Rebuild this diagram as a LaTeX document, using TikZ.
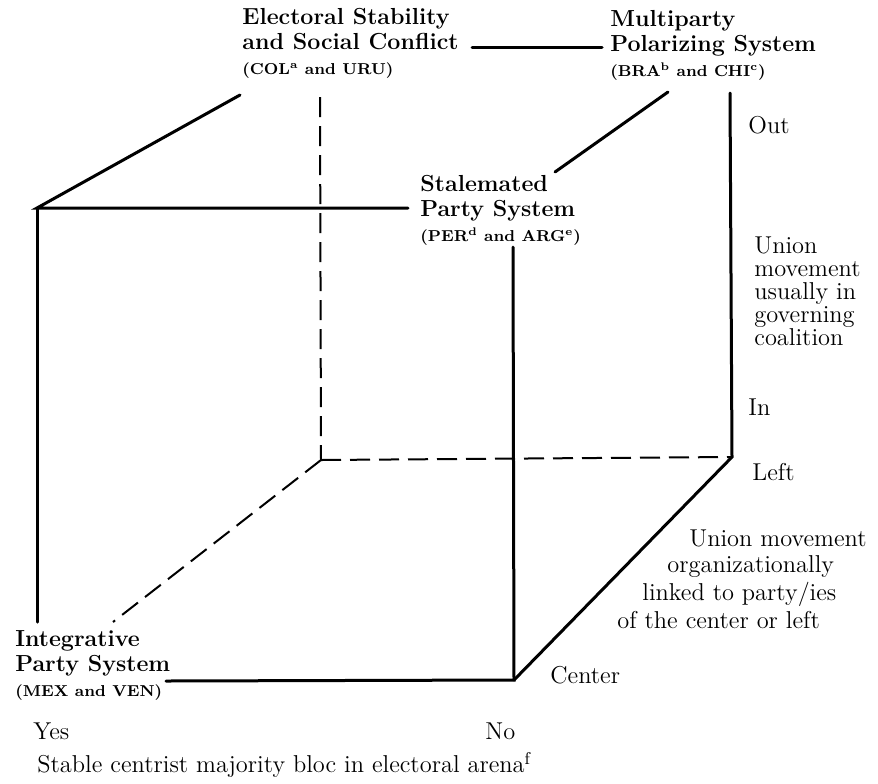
\documentclass[tikz,border=0pt]{standalone}
\usepackage{tikz}
\usetikzlibrary{positioning}
\newcommand{\ctry}[1]{{\fontsize{7.9}{9}\selectfont #1}}

\begin{document}
\begin{tikzpicture}[x=0.5pt, y=-0.5pt,
    edge/.style={line width=1.5pt, line cap=round, line join=miter},
    hidden/.style={line width=1pt, dash pattern=on 10pt off 4.5pt},
    sysname/.style={font=\fontsize{11.6}{12.5}\selectfont\bfseries, align=left, inner sep=0pt},
    axistext/.style={font=\fontsize{12.2}{11.5}\selectfont, align=left, inner sep=0pt}]
        \useasboundingbox (0,0) rectangle (878,783);
        % Corners of the cube
        \coordinate (ftl) at (37,208);
        \coordinate (bbl) at (321,460);
        \coordinate (bbr) at (732,457);
        \coordinate (fbr) at (514,680);
        % Party system labels on the other four corners
        \node[sysname, anchor=north west] (electoral) at (242,8)
          {Electoral Stability\\and Social Conflict\\\ctry{(COL\textsuperscript{a} and URU)}};
        \node[sysname, anchor=north west] (multiparty) at (610,10)
          {Multiparty\\Polarizing System\\\ctry{(BRA\textsuperscript{b} and CHI\textsuperscript{c})}};
        \node[sysname, anchor=north west] (stalemated) at (420,175)
          {Stalemated\\Party System\\\ctry{(PER\textsuperscript{d} and ARG\textsuperscript{e})}};
        \node[sysname, anchor=north west] (integrative) at (15,630)
          {Integrative\\Party System\\\ctry{(MEX and VEN)}};
        % Line ends next to the labels
        \coordinate (elec-diag) at (240,95);
        \coordinate (elec-down) at (320,97);
        \coordinate (elec-right) at (472,47);
        \coordinate (multi-left) at (602,47);
        \coordinate (multi-diag) at (668,92);
        \coordinate (multi-down) at (730,93);
        \coordinate (stal-left) at (408,208);
        \coordinate (stal-diag) at (555,172);
        \coordinate (stal-down) at (513,247);
        \coordinate (integ-up) at (37,622);
        \coordinate (integ-diag) at (113,622);
        \coordinate (integ-right) at (166,681);
        % Visible edges
        \draw[edge] (elec-diag) -- (ftl) -- (stal-left);
        \draw[edge] (ftl) -- (integ-up);
        \draw[edge] (elec-right) -- (multi-left);
        \draw[edge] (multi-diag) -- (stal-diag);
        \draw[edge] (multi-down) -- (bbr) -- (fbr);
        \draw[edge] (stal-down) -- (fbr) -- (integ-right);
        % Hidden edges
        \draw[hidden] (elec-down) -- (bbl);
        \draw[hidden] (bbl) -- (bbr);
        \draw[hidden] (bbl) -- (integ-diag);
        % Union movement: governing coalition
        \node[axistext, anchor=west] (out) at (748,125) {Out};
        \node[axistext, anchor=north west] (governing) at (754,236)
          {Union\\movement\\usually in\\governing\\coalition};
        \node[axistext, anchor=west] (in) at (748,407) {In};
        % Union movement: party links
        \node[axistext, anchor=west] (left) at (752,472) {Left};
        \node[axistext, anchor=north west] (linked) at (617,529)
          {\hspace*{36pt}Union movement\\[1.5pt]\hspace*{25pt}organizationally\\[1.5pt]
           \hspace*{12.5pt}linked to party/ies\\[1.5pt]of the center or left};
        \node[axistext, anchor=west] (center) at (550,675) {Center};
        % Electoral arena
        \node[axistext, anchor=west] (yes) at (33,731) {Yes};
        \node[axistext, anchor=west] (no) at (485,731) {No};
        \node[axistext, anchor=west] (arena) at (37,765)
          {Stable centrist majority bloc in electoral arena\textsuperscript{f}};
      \end{tikzpicture}
\end{document}
